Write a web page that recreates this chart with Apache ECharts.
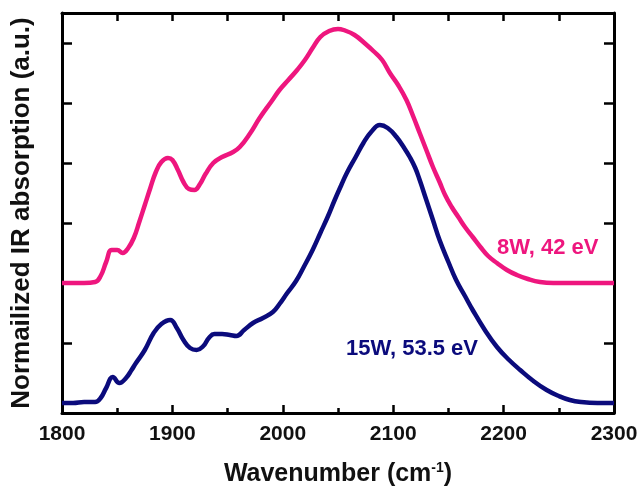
<!DOCTYPE html>
<html>
<head>
<meta charset="utf-8">
<script src="https://cdn.jsdelivr.net/npm/echarts@6/dist/echarts.min.js"></script>
<style>html,body{margin:0;padding:0;background:#fff}#c{width:639px;height:486px}</style>
</head>
<body>
<div id="c"></div>
<script>
// x tick labels
const xTicks = [1800, 1900, 2000, 2100, 2200, 2300];
// y tick positions (arbitrary units)
const yTicks = [10, 70, 130, 190, 250, 310, 370];

// 8W, 42 eV
const pinkX = [1800,1810,1820,1830,1835,1840,1845,1850,1855,1860,1865,1870,1875,1880,1885,1890,1896,1900,1905,1910,1915,1920,1925,1930,1937,1945,1955,1961,1970,1979,1990,1997,2005,2013,2020,2027,2034,2042,2050,2055,2065,2075,2082,2090,2097,2105,2112,2118,2124,2130,2136,2142,2147,2153,2159,2165,2172,2179,2186,2194,2203,2212,2222,2233,2245,2260,2280,2300];
const pinkY = [130,130,130,131,137,151,163,163,160,165,175,191,208,225,241,251,255,253,243,231,224,223,229,239,250,256,261,266,279,295,312,323,333,343,353,365,376,382,384,383,378,369,362,353,340,327,313,297,280,263,246,231,218,206,196,186,176,166,157,150,143,138,134,131,130,130,130,130];

// 15W, 53.5 eV
const blueX = [1800,1810,1820,1830,1835,1840,1846,1852,1858,1863,1867,1875,1883,1890,1898,1904,1910,1916,1922,1928,1933,1938,1945,1952,1958,1965,1973,1982,1991,1997,2004,2012,2019,2027,2034,2041,2047,2053,2058,2066,2073,2080,2088,2095,2103,2110,2115,2120,2124,2130,2136,2142,2150,2157,2165,2172,2183,2194,2205,2215,2227,2239,2250,2260,2270,2285,2300];
const blueY = [10,10,11,11,15,25,36,30,35,43,50,63,80,89,93,85,73,65,63,67,75,79,79,78,77,83,90,95,101,109,120,132,146,163,180,197,213,228,240,256,270,281,288,285,276,265,256,245,233,213,193,173,151,133,117,103,83,66,53,43,32,23,17,13,11,10,10];

const labelPink = {text: '8W, 42 eV', x: 2240, y: 165};
const labelBlue = {text: '15W, 53.5 eV', x: 2117, y: 64};

const PINK = '#ee167e';
const BLUE = '#0b0b7c';
const FONT = '"Liberation Sans", Arial, sans-serif';

const pinkData = pinkX.map((x, i) => [x, pinkY[i]]);
const blueData = blueX.map((x, i) => [x, blueY[i]]);

const chart = echarts.init(document.getElementById('c'), null, {renderer: 'canvas'});
const axisLine = {show: true, onZero: false, lineStyle: {color: '#000', width: 3}};
chart.setOption({
  animation: false,
  backgroundColor: '#fff',
  grid: {left: 62, right: 25, top: 13, bottom: 73, containLabel: false, outerBoundsMode: 'none'},
  xAxis: [{
    type: 'value', position: 'bottom', min: 1800, max: 2300, interval: 100,
    axisLine: axisLine,
    axisTick: {show: true, inside: true, length: 8, lineStyle: {color: '#000', width: 2.5}},
    minorTick: {show: true, splitNumber: 2, length: 5, lineStyle: {color: '#000', width: 2.5}},
    splitLine: {show: false}, minorSplitLine: {show: false},
    axisLabel: {show: true, margin: 11, color: '#111', fontFamily: FONT, fontWeight: 'bold', fontSize: 21,
      customValues: xTicks, formatter: v => String(v)},
    name: 'Wavenumber (cm{sup|-1})',
    nameLocation: 'middle', nameGap: 48,
    nameTextStyle: {color: '#111', fontFamily: FONT, fontWeight: 'bold', fontSize: 25,
      rich: {sup: {fontSize: 14, fontFamily: FONT, fontWeight: 'bold', color: '#111', verticalAlign: 'top', padding: [0,0,12,0]}}}
  }, {
    type: 'value', position: 'top', min: 1800, max: 2300, interval: 50,
    axisLine: axisLine,
    axisTick: {show: true, inside: true, length: 8, lineStyle: {color: '#000', width: 2.5}},
    splitLine: {show: false},
    axisLabel: {show: false}
  }],
  yAxis: [{
    type: 'value', position: 'left', min: 0, max: 400,
    axisLine: axisLine,
    axisTick: {show: true, inside: true, length: 10, customValues: yTicks, lineStyle: {color: '#000', width: 2.5}},
    splitLine: {show: false},
    axisLabel: {show: false},
    name: 'Normailized IR absorption (a.u.)',
    nameLocation: 'middle', nameGap: 27,
    nameTextStyle: {color: '#111', fontFamily: FONT, fontWeight: 'bold', fontSize: 26}
  }, {
    type: 'value', position: 'right', min: 0, max: 400,
    axisLine: axisLine,
    axisTick: {show: true, inside: true, length: 10, customValues: yTicks, lineStyle: {color: '#000', width: 2.5}},
    splitLine: {show: false},
    axisLabel: {show: false}
  }],
  series: [{
    type: 'line', name: '8W, 42 eV', data: pinkData, xAxisIndex: 0, yAxisIndex: 0,
    smooth: 0.45, showSymbol: false, symbol: 'none',
    lineStyle: {color: PINK, width: 4.5}, z: 3,
    markPoint: {symbol: 'circle', symbolSize: 0, silent: true,
      data: [{coord: [labelPink.x, labelPink.y], value: labelPink.text}],
      label: {show: true, position: 'inside', formatter: labelPink.text, color: PINK,
        fontFamily: FONT, fontWeight: 'bold', fontSize: 22}}
  }, {
    type: 'line', name: '15W, 53.5 eV', data: blueData, xAxisIndex: 0, yAxisIndex: 0,
    smooth: 0.45, showSymbol: false, symbol: 'none',
    lineStyle: {color: BLUE, width: 4.5}, z: 3,
    markPoint: {symbol: 'circle', symbolSize: 0, silent: true,
      data: [{coord: [labelBlue.x, labelBlue.y], value: labelBlue.text}],
      label: {show: true, position: 'inside', formatter: labelBlue.text, color: BLUE,
        fontFamily: FONT, fontWeight: 'bold', fontSize: 22}}
  }]
});
</script>
</body>
</html>
